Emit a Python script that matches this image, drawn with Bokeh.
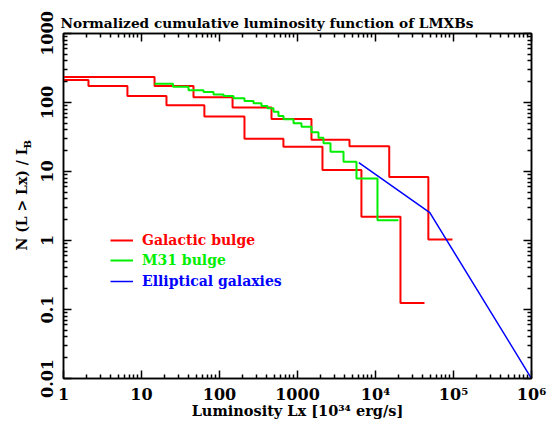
import math
from bokeh.plotting import figure
from bokeh.models import LogAxis, FixedTicker, Legend, LegendItem, Title
from bokeh.embed import file_html
from bokeh.resources import INLINE

# ---- data ----
gal_upper_x = [1, 14.7, 46.4, 147, 464, 1510, 4640, 15000, 47600, 97000]
gal_upper_y = [234, 173, 119, 84.6, 57.6, 28.9, 23.2, 8.3, 1.03, 1.03]

gal_lower_x = [1, 2.09, 6.6, 20.9, 64, 209, 660, 2090, 6600, 20900, 42500]
gal_lower_y = [212, 173, 124, 91, 62.7, 29.9, 22.9, 10.5, 2.2, 0.124, 0.124]

m31_x = [14.7, 25.3, 40.1, 62.4, 83.8, 113, 151, 209, 273, 345, 412, 492, 570,
         662, 889, 1125, 1511, 1857, 2154, 2649, 3890, 5702, 10600, 19700]
m31_y = [187, 169, 150, 142, 131, 124, 115, 105, 97.3, 88.9, 82.4, 73.6, 63.7,
         57.1, 50.0, 44.6, 37.0, 30.9, 25.6, 19.4, 13.9, 7.9, 1.96, 1.96]

ell_x = [6110, 49700, 1e6]
ell_y = [13.4, 2.53, 0.01]

x_ticks = [1, 10, 100, 1000, 1e4, 1e5, 1e6]
x_tick_labels = ["1", "10", "100", "1000", "10\u2074", "10\u2075", "10\u2076"]
y_ticks = [0.01, 0.1, 1, 10, 100, 1000]
y_tick_labels = ["0.01", "0.1", "1", "10", "100", "1000"]

title_text = "Normalized cumulative luminosity function of LMXBs"
x_label = "Luminosity Lx [10\u00b3\u2074 erg/s]"
y_label_main = "N (L > Lx) / L"
y_label_sub = "B"
legend_names = ["Galactic bulge", "M31 bulge", "Elliptical galaxies"]
colors = ["#ff0000", "#00ee00", "#0000ff"]

FONT = "DejaVu Serif"


def minor(ticks):
    out = []
    for t in ticks[:-1]:
        out += [t * k for k in range(2, 10)]
    return out


p = figure(x_axis_type="log", y_axis_type="log",
           x_range=(1, 1e6), y_range=(0.01, 1000),
           frame_width=468, frame_height=345,
           min_border_left=63, min_border_right=16,
           min_border_top=33, min_border_bottom=44,
           output_backend="svg", toolbar_location=None,
           background_fill_color="white", border_fill_color="white")
p.grid.visible = False
p.outline_line_color = "black"
p.outline_line_width = 1.5

r_up = p.step(gal_upper_x, gal_upper_y, mode="after", line_color=colors[0], line_width=2)
r_lo = p.step(gal_lower_x, gal_lower_y, mode="after", line_color=colors[0], line_width=2)
r_m31 = p.step(m31_x, m31_y, mode="after", line_color=colors[1], line_width=2)
r_ell = p.line(ell_x, ell_y, line_color=colors[2], line_width=1.5)


def style(ax, ticks, labels, show):
    ax.ticker = FixedTicker(ticks=ticks, minor_ticks=minor(ticks))
    ax.major_label_overrides = {t: l for t, l in zip(ticks, labels)}
    ax.major_tick_in = 8
    ax.major_tick_out = 0
    ax.minor_tick_in = 4
    ax.minor_tick_out = 0
    ax.axis_line_width = 1.5
    ax.major_tick_line_width = 1.5
    ax.minor_tick_line_width = 1.5
    ax.axis_line_color = "black"
    ax.major_tick_line_color = "black"
    ax.minor_tick_line_color = "black"
    ax.major_label_text_font = FONT
    ax.major_label_text_font_style = "bold"
    if show:
        ax.major_label_text_color = "black"
        ax.major_label_text_font_size = "16px"
    else:
        ax.major_label_text_color = None
        ax.major_label_text_font_size = "1px"
        ax.major_label_standoff = 0


style(p.xaxis[0], x_ticks, x_tick_labels, True)
p.xaxis[0].major_label_standoff = 6
p.xaxis[0].axis_label = x_label
p.xaxis[0].axis_label_text_font = FONT
p.xaxis[0].axis_label_text_font_style = "bold"
p.xaxis[0].axis_label_text_font_size = "14.5px"
p.xaxis[0].axis_label_text_color = "black"
p.xaxis[0].axis_label_standoff = -5

style(p.yaxis[0], y_ticks, y_tick_labels, True)
p.yaxis[0].major_label_orientation = "vertical"
p.yaxis[0].major_label_standoff = 11

top = LogAxis()
right = LogAxis()
style(top, x_ticks, x_tick_labels, False)
style(right, y_ticks, y_tick_labels, False)
p.add_layout(top, "above")
p.add_layout(right, "right")

p.title.text = title_text
p.title.align = "left"
p.title.offset = -3
p.title.text_font = FONT
p.title.text_font_style = "bold"
p.title.text_font_size = "13.7px"
p.title.text_color = "black"
p.title.standoff = 6

# y-axis label with subscript B, as two titles on the left side
t_sub = Title(text=y_label_sub, align="left", offset=230, standoff=10,
              text_font=FONT, text_font_style="bold", text_font_size="10px",
              text_color="black")
t_main = Title(text=y_label_main, align="left", offset=128, standoff=-31,
               text_font=FONT, text_font_style="bold", text_font_size="14px",
               text_color="black")
p.add_layout(t_sub, "left")
p.add_layout(t_main, "left")

# legends: one per series so each text takes its series colour
leg_rows = [(r_up, 130), (r_m31, 110), (r_ell, 89)]
for (rend, ly), name, col in zip(leg_rows, legend_names, colors):
    lg = Legend(items=[LegendItem(label=name, renderers=[rend])],
                location=(47, ly), padding=0, margin=0, spacing=0,
                glyph_width=23, glyph_height=14, label_height=14,
                label_standoff=9, border_line_color=None,
                background_fill_alpha=0,
                label_text_color=col, label_text_font=FONT,
                label_text_font_style="bold", label_text_font_size="14px")
    p.add_layout(lg, "center")

open("out.html", "w").write(file_html(p, INLINE))
